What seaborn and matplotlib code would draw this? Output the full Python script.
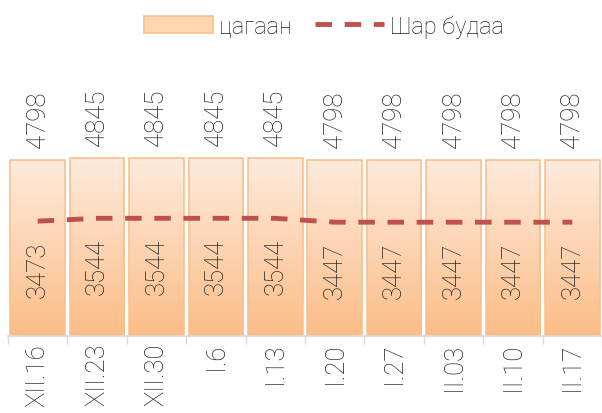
import numpy as np
import matplotlib.pyplot as plt
import seaborn as sns
from matplotlib.colors import LinearSegmentedColormap
from matplotlib.patches import Patch
from matplotlib.lines import Line2D

# data
dates = ["XII.16", "XII.23", "XII.30", "I.6", "I.13", "I.20", "I.27", "II.03", "II.10", "II.17"]
tsagaan = [4798, 4845, 4845, 4845, 4845, 4798, 4798, 4798, 4798, 4798]
shar_budaa = [3473, 3544, 3544, 3544, 3544, 3447, 3447, 3447, 3447, 3447]

text_color = "#222222"
line_color = "#C0504D"
edge_color = "#FAC08F"
fs = 18.5

sns.set_theme(style="white")
plt.rcParams["font.family"] = ["Roboto", "DejaVu Sans"]
plt.rcParams["font.weight"] = "light"
plt.rcParams["text.color"] = text_color
plt.rcParams["xtick.color"] = text_color

fig = plt.figure(figsize=(6.02, 4.14), dpi=100)
ax = fig.add_axes([8 / 602, 1 - 337 / 414, 594 / 602, 267 / 414])

sns.barplot(x=dates, y=tsagaan, ax=ax, width=0.92, color="#FCCBA0",
            edgecolor=edge_color, linewidth=1.2, zorder=2)

# gradient fill inside each bar
grad_cmap = LinearSegmentedColormap.from_list("peach", ["#FCBD87", "#FEEBDD"])
grad = np.linspace(0, 1, 256).reshape(-1, 1)
for bar in ax.patches:
    x0, w, h = bar.get_x(), bar.get_width(), bar.get_height()
    im = ax.imshow(grad, extent=[x0, x0 + w, 0, h], origin="lower", aspect="auto",
                   cmap=grad_cmap, zorder=1.9)
    im.set_clip_path(bar)
    bar.set_facecolor("none")

ax.bar_label(ax.containers[0], labels=[str(v) for v in tsagaan], rotation=90,
             padding=9, fontsize=fs, color=text_color)

ax.set_xlim(-0.5, len(dates) - 0.5)
ax.set_ylim(0, 7265)
ax.set_yticks([])
ax.set_xticks(range(len(dates)))
ax.set_xticklabels(dates, rotation=90, fontsize=fs)
ax.set_xticks(np.arange(-0.5, len(dates), 1), minor=True)
ax.tick_params(axis="x", which="major", length=0, pad=5)
ax.tick_params(axis="x", which="minor", length=6, width=1, color="#D9D9D9", bottom=True)
for s in ["top", "left", "right"]:
    ax.spines[s].set_visible(False)
ax.spines["bottom"].set_color("#D9D9D9")
ax.set_xlabel("")
ax.set_ylabel("")

# secondary axis for the line
ax2 = ax.twinx()
sns.lineplot(x=np.arange(len(dates)), y=shar_budaa, ax=ax2, color=line_color,
             linewidth=3.5, linestyle=(0, (3.4, 2.6)), zorder=3)
for i, v in enumerate(shar_budaa):
    ax2.annotate(str(v), (i, v), xytext=(0, -14), textcoords="offset points",
                 rotation=90, ha="center", va="top", fontsize=fs, color=text_color)
ax2.set_ylim(616, 7258)
ax2.set_yticks([])
for s in ["top", "left", "right", "bottom"]:
    ax2.spines[s].set_visible(False)
ax2.set_xlim(-0.5, len(dates) - 0.5)

handles = [
    Patch(facecolor="#FDD5B1", edgecolor=edge_color, linewidth=1.2),
    Line2D([], [], color=line_color, linewidth=3.5, linestyle=(0, (3.4, 2.6))),
]
fig.legend(handles, ["цагаан", "Шар будаа"], loc="center", bbox_to_anchor=(0.538, 0.935),
           ncol=2, frameon=False, fontsize=17, handlelength=2.95, handletextpad=0.25,
           columnspacing=0.95)

fig.savefig("out.png", dpi=100)
